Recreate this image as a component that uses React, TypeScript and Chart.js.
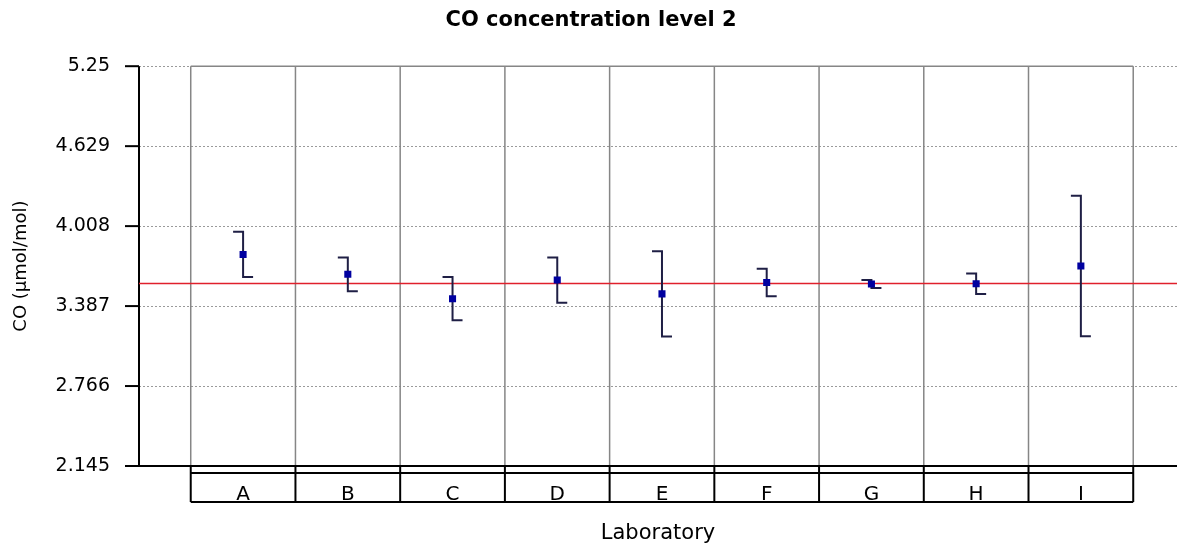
import React, { useEffect, useRef } from 'react';
import { Chart, registerables } from 'chart.js';

Chart.register(...registerables);

const categories = ['A', 'B', 'C', 'D', 'E', 'F', 'G', 'H', 'I'];
const labMeans = [3.788, 3.634, 3.444, 3.589, 3.482, 3.570, 3.558, 3.560, 3.698];
const labUncertainty = [0.176, 0.131, 0.168, 0.176, 0.331, 0.107, 0.031, 0.080, 0.545];
const referenceValue = 3.563;
const yTickValues = [2.145, 2.766, 3.387, 4.008, 4.629, 5.25];
const yTickLabels = ['2.145', '2.766', '3.387', '4.008', '4.629', '5.25'];
const chartTitle = 'CO concentration level 2';
const yAxisTitle = 'CO (µmol/mol)';
const xAxisTitle = 'Laboratory';

const X_MIN = -0.994;
const X_MAX = 8.918;
const FONT = "'DejaVu Sans', Verdana, sans-serif";

const framePlugin = {
  id: 'frame',
  beforeDatasetsDraw(chart: any) {
    const { ctx, chartArea: ca, scales } = chart;
    const x = scales.x;
    const y = scales.y;
    const line = (x1: number, y1: number, x2: number, y2: number) => {
      ctx.beginPath();
      ctx.moveTo(x1, y1);
      ctx.lineTo(x2, y2);
      ctx.stroke();
    };
    const n = categories.length;
    const boxL = x.getPixelForValue(-0.5);
    const boxR = x.getPixelForValue(n - 0.5);
    const rowTop = ca.bottom;
    const rowMid = ca.bottom + 7;
    const rowBot = ca.bottom + 36;
    ctx.save();
    // dotted horizontal gridlines
    ctx.strokeStyle = '#9a9a9a';
    ctx.lineWidth = 1;
    ctx.setLineDash([2, 2]);
    yTickValues.forEach((v) => {
      if (v === y.min) return;
      const py = Math.round(y.getPixelForValue(v)) + 0.5;
      line(ca.left, py, ca.right, py);
    });
    ctx.setLineDash([]);
    // gray laboratory separators
    ctx.strokeStyle = '#868686';
    ctx.lineWidth = 1.5;
    for (let i = 0; i <= n; i++) {
      const px = x.getPixelForValue(i - 0.5);
      line(px, ca.top, px, ca.bottom);
    }
    line(boxL, ca.top, boxR, ca.top);
    // black axes
    ctx.strokeStyle = '#000';
    ctx.lineWidth = 2;
    line(ca.left, ca.top, ca.left, ca.bottom);
    line(ca.left, ca.bottom, ca.right, ca.bottom);
    yTickValues.forEach((v) => {
      const py = y.getPixelForValue(v);
      line(ca.left - 14, py, ca.left, py);
    });
    // category label row
    line(boxL, rowMid, boxR, rowMid);
    line(boxL, rowBot, boxR, rowBot);
    for (let i = 0; i <= n; i++) {
      const px = x.getPixelForValue(i - 0.5);
      line(px, rowTop, px, rowBot);
    }
    ctx.restore();
  },
  afterDatasetDraw(chart: any, args: any) {
    if (args.index !== 1) return;
    const { ctx, scales } = chart;
    const x = scales.x;
    const y = scales.y;
    ctx.save();
    ctx.strokeStyle = '#1f1f45';
    ctx.lineWidth = 2;
    ctx.lineJoin = 'miter';
    labMeans.forEach((m, i) => {
      const px = x.getPixelForValue(i);
      const top = y.getPixelForValue(m + labUncertainty[i]);
      const bot = y.getPixelForValue(m - labUncertainty[i]);
      ctx.beginPath();
      ctx.moveTo(px - 10, top);
      ctx.lineTo(px, top);
      ctx.lineTo(px, bot);
      ctx.lineTo(px + 10, bot);
      ctx.stroke();
    });
    ctx.restore();
  },
};

export default function App() {
  const canvasRef = useRef<HTMLCanvasElement | null>(null);

  useEffect(() => {
    if (!canvasRef.current) return;
    const chart = new Chart(canvasRef.current, {
      type: 'scatter',
      data: {
        datasets: [
          {
            label: 'Laboratory result',
            data: categories.map((_, i) => ({ x: i, y: labMeans[i] })),
            pointStyle: 'rect',
            pointRadius: 5,
            pointHoverRadius: 5,
            backgroundColor: '#0000a0',
            borderColor: '#0000a0',
            borderWidth: 0,
          },
          {
            label: 'Reference value',
            data: [
              { x: X_MIN, y: referenceValue },
              { x: X_MAX, y: referenceValue },
            ],
            showLine: true,
            borderColor: '#e0202c',
            borderWidth: 1.5,
            pointRadius: 0,
            pointHoverRadius: 0,
          },
        ],
      },
      options: {
        responsive: false,
        animation: false,
        events: [],
        layout: { padding: 0 },
        plugins: {
          legend: { display: false },
          tooltip: { enabled: false },
          title: {
            display: true,
            text: chartTitle,
            color: '#000',
            font: { family: FONT, size: 21, weight: 'bold' },
            padding: { top: 8, bottom: 33 },
          },
        },
        scales: {
          x: {
            type: 'linear',
            min: X_MIN,
            max: X_MAX,
            grid: { display: false },
            border: { display: false },
            afterBuildTicks: (scale: any) => {
              scale.ticks = categories.map((_, i) => ({ value: i }));
            },
            afterFit: (scale: any) => {
              scale.height = 82;
            },
            ticks: {
              autoSkip: false,
              maxRotation: 0,
              padding: 9,
              color: '#000',
              font: { family: FONT, size: 20 },
              callback: (v: any) => categories[v as number] ?? '',
            },
            title: {
              display: true,
              text: xAxisTitle,
              color: '#000',
              font: { family: FONT, size: 21 },
              padding: { top: 0, bottom: 2 },
            },
          },
          y: {
            type: 'linear',
            min: yTickValues[0],
            max: yTickValues[yTickValues.length - 1],
            grid: { display: false },
            border: { display: false },
            afterBuildTicks: (scale: any) => {
              scale.ticks = yTickValues.map((v) => ({ value: v }));
            },
            afterFit: (scale: any) => {
              scale.width = 139;
            },
            ticks: {
              padding: 21,
              color: '#000',
              font: { family: FONT, size: 19 },
              callback: (v: any) => {
                const idx = yTickValues.indexOf(v as number);
                return idx >= 0 ? yTickLabels[idx] : '';
              },
            },
            title: {
              display: true,
              text: yAxisTitle,
              color: '#000',
              font: { family: FONT, size: 18 },
              padding: { top: 11, bottom: 0 },
            },
          },
        },
      },
      plugins: [framePlugin],
    } as any);
    return () => chart.destroy();
  }, []);

  return (
    <div style={{ position: 'absolute', left: 0, top: 0, width: 1182, height: 548, background: '#fff' }}>
      <canvas ref={canvasRef} width={1182} height={548} style={{ display: 'block' }} />
    </div>
  );
}
